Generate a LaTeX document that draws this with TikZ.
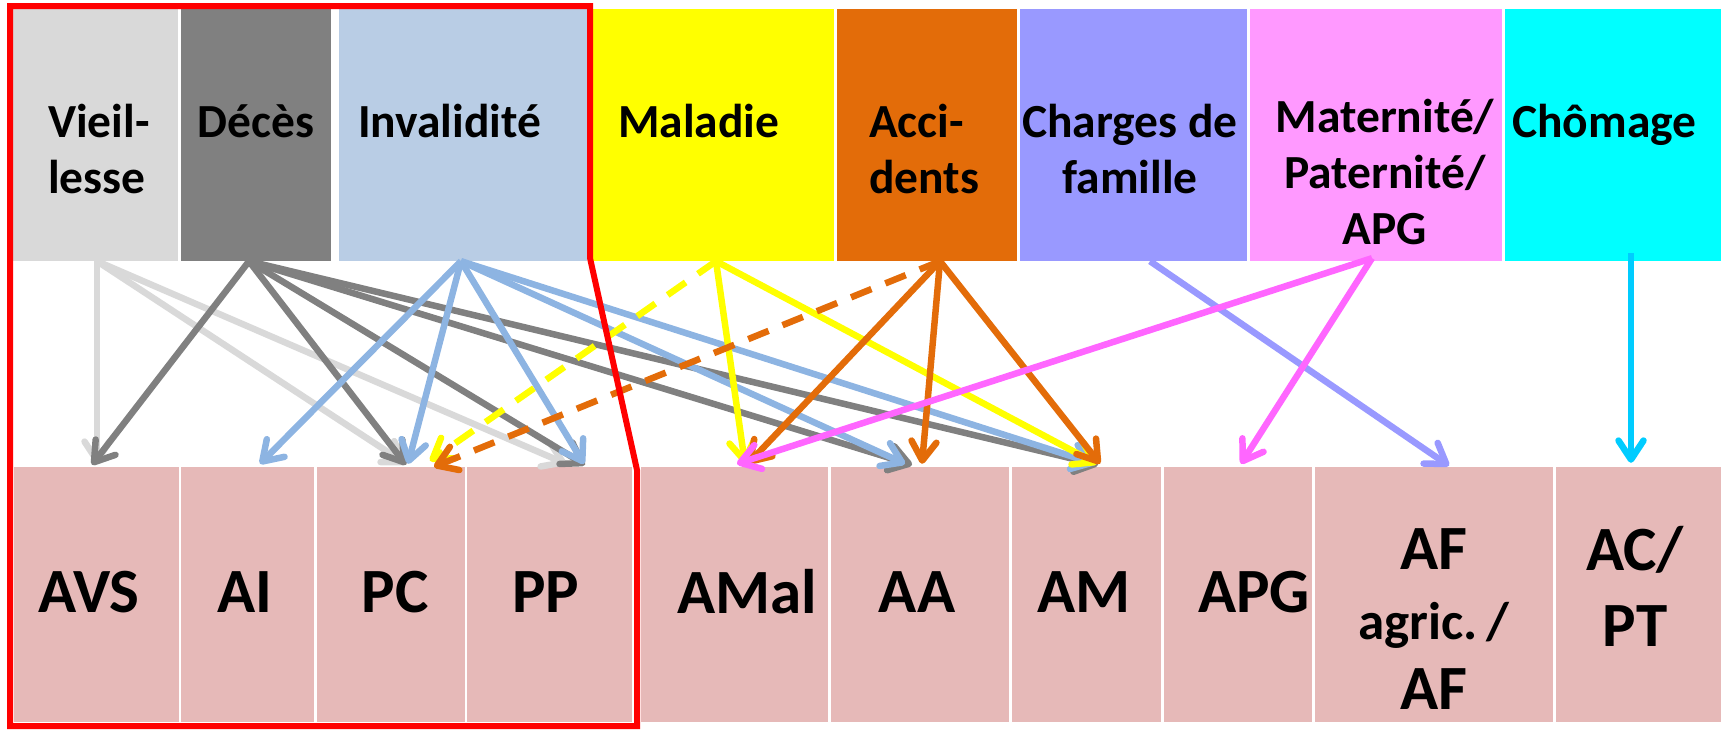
\documentclass[tikz,border=0pt]{standalone}
\usepackage{fontspec}
\setmainfont{Carlito}
\usetikzlibrary{arrows.meta}
\definecolor{cVie}{HTML}{D9D9D9}
\definecolor{cDec}{HTML}{808080}
\definecolor{cInv}{HTML}{B9CDE5}
\definecolor{cMal}{HTML}{FFFF00}
\definecolor{cAcc}{HTML}{E36C09}
\definecolor{cCha}{HTML}{9999FF}
\definecolor{cMat}{HTML}{FF99FF}
\definecolor{cCho}{HTML}{00FFFF}
\definecolor{cIns}{HTML}{E6B9B8}
\definecolor{aInv}{HTML}{8DB4E2}
\definecolor{aMat}{HTML}{FF66FF}
\definecolor{aCho}{HTML}{00CCFF}
\tikzset{
  topbox/.style={fill=#1, minimum height=252pt, inner sep=0pt},
  insbox/.style={fill=cIns, minimum height=255pt, inner sep=0pt},
  toptext/.style={font=\fontsize{47.5}{56}\selectfont\bfseries, inner sep=0pt},
  bottext/.style={font=\fontsize{63}{70}\selectfont\bfseries, inner sep=0pt},
  link/.style={draw=#1, line width=6.5pt, -{Straight Barb[length=19pt,width=25pt,round]}},
  dlink/.style={link=#1, dash pattern=on 22pt off 15pt},
  frame/.style={draw=red, line width=6pt}
}

\begin{document}
\begin{tikzpicture}[x=1pt,y=-1pt]
  \useasboundingbox (0,0) rectangle (1721,729);
  % risques
  \node[topbox=cVie, minimum width=165pt] (vie) at (95.5,135) {};
  \node[topbox=cDec, minimum width=150pt] (dec) at (256,135) {};
  \node[topbox=cInv, minimum width=248pt] (inv) at (463,135) {};
  \node[topbox=cMal, minimum width=241pt] (mal) at (713.5,135) {};
  \node[topbox=cAcc, minimum width=180pt] (acc) at (927,135) {};
  \node[topbox=cCha, minimum width=227pt] (cha) at (1133.5,135) {};
  \node[topbox=cMat, minimum width=252pt] (mat) at (1376,135) {};
  \node[topbox=cCho, minimum width=216pt] (cho) at (1613,135) {};

  \node[toptext, align=left, anchor=north west] (vie-t) at (48,104) {Vieil-\\lesse};
  \node[toptext, anchor=north] (dec-t) at (256,104) {Décès};
  \node[toptext, anchor=north west] (inv-t) at (358,104) {Invalidité};
  \node[toptext, anchor=north west] (mal-t) at (618,104) {Maladie};
  \node[toptext, align=left, anchor=north west] (acc-t) at (869,104) {Acci-\\dents};
  \node[toptext, align=center, anchor=north] (cha-t) at (1130,104) {Charges de\\famille};
  \node[toptext, align=center, anchor=north] (mat-t) at (1385,99) {Maternité/\\Paternité/\\APG};
  \node[toptext, anchor=north west] (cho-t) at (1512,104) {Chômage};

  % assurances
  \node[insbox, minimum width=165pt] (avs) at (96.5,594.5) {};
  \node[insbox, minimum width=133pt] (ai) at (247.5,594.5) {};
  \node[insbox, minimum width=148pt] (pc) at (391,594.5) {};
  \node[insbox, minimum width=165pt] (pp) at (549.5,594.5) {};
  \node[insbox, minimum width=187pt] (amal) at (734.5,594.5) {};
  \node[insbox, minimum width=178pt] (aa) at (920,594.5) {};
  \node[insbox, minimum width=149pt] (am) at (1086.5,594.5) {};
  \node[insbox, minimum width=148pt] (apg) at (1238,594.5) {};
  \node[insbox, minimum width=238pt] (af) at (1434,594.5) {};
  \node[insbox, minimum width=165pt] (acpt) at (1638.5,594.5) {};

  \node[bottext] (avs-t) at (89,592) {AVS};
  \node[bottext] (ai-t) at (245,592) {AI};
  \node[bottext] (pc-t) at (395,592) {PC};
  \node[bottext] (pp-t) at (546,592) {PP};
  \node[bottext] (amal-t) at (747,592) {AMal};
  \node[bottext] (aa-t) at (917,592) {AA};
  \node[bottext] (am-t) at (1084,592) {AM};
  \node[bottext] (apg-t) at (1254,592) {APG};
  \node[bottext, align=center, anchor=north] (af-t) at (1434,528)
    {AF\\{\fontsize{53}{67}\selectfont agric.\,/}\\AF};
  \node[bottext, align=center, anchor=north, font=\fontsize{63}{76}\selectfont\bfseries] (acpt-t) at (1635,526) {AC/\\PT};

  % liens
  \foreach \t/\s in {avs/0.5, pc/15, pp/16.5}
    \draw[link=cVie] ([xshift=1.5pt]vie.south) -- ([xshift=\s pt,yshift=3pt]\t.north);
  \foreach \t/\s in {avs/-4.5, pc/15, pp/35.5, aa/-8, am/11.5}
    \draw[link=cDec] ([xshift=-7pt]dec.south) -- ([xshift=\s pt,yshift=2pt]\t.north);
  \foreach \t/\s in {ai/12.5, pc/17, pp/34.5, aa/-15, am/8.5}
    \draw[link=aInv] ([xshift=-2pt]inv.south) -- ([xshift=\s pt,yshift=3pt]\t.north);
  \draw[dlink=cMal] ([xshift=2.5pt]mal.south) -- ([xshift=39pt,yshift=6pt]pc.north);
  \foreach \t/\s in {amal/10.5, am/10.5}
    \draw[link=cMal] ([xshift=2.5pt]mal.south) -- ([xshift=\s pt,yshift=3pt]\t.north);
  \draw[dlink=cAcc] ([xshift=13pt]acc.south) -- ([xshift=43pt]pc.north);
  \foreach \t/\s in {amal/13.5, aa/2, am/13.5}
    \draw[link=cAcc] ([xshift=13pt]acc.south) -- ([xshift=\s pt,yshift=3pt]\t.north);
  \draw[link=cCha] ([xshift=16.5pt]cha.south) -- ([xshift=15pt,yshift=1pt]af.north);
  \foreach \t/\s in {amal/2.5, apg/3}
    \draw[link=aMat] ([xshift=-4pt,yshift=3pt]mat.south) -- ([xshift=\s pt,yshift=3pt]\t.north);
  \draw[link=aCho] ([xshift=18pt,yshift=8pt]cho.south) -- ([xshift=-7.5pt,yshift=4pt]acpt.north);

  \draw[frame] (10,6) -- (590,6) -- (590,258) -- (637,470) -- (637,726) -- (10,726) -- cycle;
\end{tikzpicture}
\end{document}
